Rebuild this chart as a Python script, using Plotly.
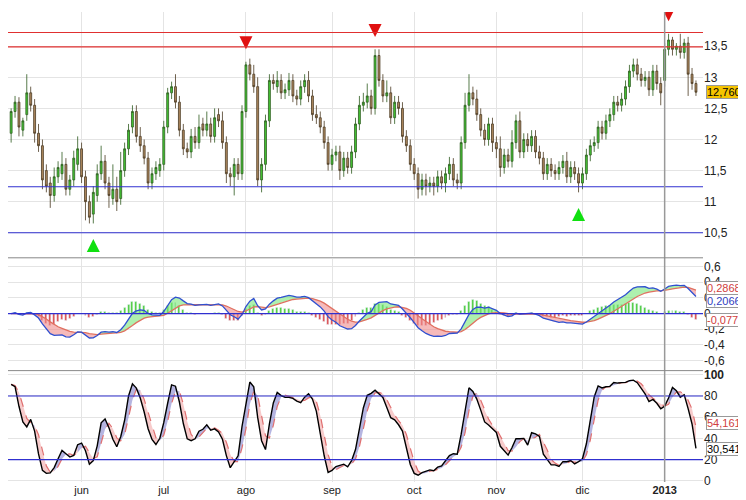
import numpy as np
import pandas as pd
import plotly.graph_objects as go

# daily candles (index = trading day)
opens = [12.10,12.45,12.60,12.15,12.40,12.75,12.55,12.10,11.90,11.50,
         11.30,11.10,11.40,11.45,11.60,11.20,11.35,11.60,11.85,11.40,
         11.00,10.80,11.10,11.45,11.65,11.30,11.05,11.20,11.05,11.50,
         11.85,12.20,12.45,12.05,11.90,11.70,11.30,11.45,11.50,11.60,
         12.20,12.75,12.85,12.60,12.15,11.85,11.80,12.05,11.95,12.25,
         12.15,12.25,12.05,12.40,12.30,11.95,11.45,11.40,11.60,11.45,
         12.45,13.20,13.05,12.85,11.35,11.60,12.30,12.95,12.85,12.95,
         12.75,12.80,12.95,12.70,12.65,12.85,12.95,12.70,12.40,12.35,
         12.20,11.95,11.60,11.75,11.80,11.50,11.70,11.55,11.80,12.25,
         12.55,12.60,12.70,12.50,13.35,12.95,12.70,12.75,12.35,12.60,
         12.50,12.05,11.90,11.60,11.45,11.20,11.35,11.25,11.30,11.25,
         11.40,11.30,11.45,11.60,11.35,11.30,11.95,12.55,12.75,12.65,
         12.40,12.15,12.00,12.25,11.95,11.85,11.55,11.75,11.65,11.95,
         12.30,11.80,12.00,11.90,12.05,11.80,11.70,11.45,11.60,11.50,
         11.45,11.55,11.65,11.40,11.55,11.45,11.30,11.45,11.75,11.90,
         11.95,12.20,12.10,12.30,12.40,12.60,12.55,12.65,12.85,13.10,
         13.20,13.05,12.95,13.00,12.80,13.10,12.90,12.95,13.45,13.60,
         13.45,13.50,13.40,13.55,13.05,12.90]
closes = [12.45,12.60,12.20,12.30,12.75,12.55,12.10,11.90,11.35,11.25,
          11.10,11.40,11.55,11.60,11.20,11.35,11.70,11.85,11.40,11.00,
          10.75,11.15,11.45,11.65,11.30,11.10,11.20,11.00,11.50,11.85,
          12.15,12.45,12.05,11.90,11.70,11.30,11.45,11.55,11.60,12.20,
          12.75,12.85,12.60,12.15,11.85,11.80,12.05,11.95,12.20,12.15,
          12.25,12.05,12.35,12.30,11.95,11.45,11.40,11.60,11.45,12.45,
          13.20,13.05,12.85,11.35,11.60,12.30,12.95,12.90,12.95,12.75,
          12.80,12.95,12.70,12.65,12.85,12.95,12.70,12.40,12.35,12.20,
          11.95,11.60,11.75,11.80,11.50,11.70,11.55,11.80,12.25,12.55,
          12.60,12.70,12.50,13.35,12.95,12.70,12.75,12.35,12.60,12.50,
          12.05,11.90,11.60,11.45,11.20,11.35,11.25,11.30,11.25,11.40,
          11.30,11.45,11.60,11.35,11.30,11.95,12.55,12.75,12.65,12.40,
          12.15,12.00,12.25,11.95,11.85,11.55,11.75,11.65,11.95,12.30,
          11.80,12.00,11.90,12.05,11.80,11.70,11.45,11.60,11.50,11.45,
          11.55,11.65,11.40,11.55,11.45,11.30,11.45,11.75,11.90,11.95,
          12.20,12.10,12.30,12.40,12.60,12.55,12.65,12.85,13.10,13.20,
          13.05,12.95,13.00,12.80,13.10,12.90,12.75,13.45,13.60,13.45,
          13.50,13.40,13.55,13.05,12.90,12.76]
upper_wick = [.05,.1,.08,.05,.3,.1,.1,.15,.1,.1,
              .1,.15,.1,.2,.1,.08,.12,.2,.1,.1,
              .1,.1,.15,.25,.1,.1,.4,.2,.3,.1,
              .1,.1,.1,.15,.1,.1,.1,.1,.1,.1,
              .08,.08,.2,.1,.1,.1,.12,.15,.2,.1,
              .2,.1,.15,.1,.15,.1,.1,.1,.1,.1,
              .05,.1,.15,.15,.1,.1,.1,.1,.15,.1,
              .1,.12,.1,.1,.1,.1,.15,.1,.15,.1,
              .1,.1,.1,.1,.1,.1,.1,.1,.1,.15,
              .15,.2,.1,.1,.1,.1,.2,.1,.1,.1,
              .1,.1,.1,.1,.1,.1,.1,.1,.1,.1,
              .1,.1,.12,.1,.1,.1,.2,.3,.1,.15,
              .1,.1,.1,.1,.1,.2,.1,.1,.2,.1,
              .15,.1,.1,.1,.1,.1,.1,.1,.1,.1,
              .1,.1,.15,.1,.1,.1,.1,.1,.1,.1,
              .1,.1,.1,.1,.1,.1,.1,.1,.1,.1,
              .1,.1,.1,.1,.1,.1,.1,.1,.1,.05,
              .05,.2,.07,.1,.1,.05]
lower_wick = [.15,.1,.15,.1,.1,.1,.15,.1,.15,.1,
              .2,.1,.1,.1,.1,.1,.1,.1,.1,.3,
              .1,.15,.1,.1,.1,.2,.1,.15,.1,.1,
              .1,.1,.1,.1,.1,.1,.1,.1,.1,.1,
              .1,.1,.1,.1,.1,.1,.1,.1,.1,.1,
              .1,.1,.1,.1,.1,.15,.15,.3,.1,.1,
              .1,.1,.1,.1,.2,.1,.1,.1,.1,.1,
              .1,.1,.1,.1,.1,.1,.1,.1,.1,.1,
              .1,.1,.1,.1,.15,.1,.1,.1,.1,.1,
              .1,.1,.1,.1,.1,.1,.1,.1,.1,.1,
              .1,.1,.1,.1,.15,.1,.15,.1,.15,.1,
              .1,.15,.1,.1,.1,.1,.1,.1,.1,.1,
              .1,.1,.1,.15,.15,.15,.1,.1,.1,.1,
              .1,.1,.1,.1,.1,.1,.1,.1,.1,.1,
              .1,.1,.1,.1,.1,.15,.1,.1,.1,.1,
              .1,.1,.1,.1,.1,.1,.1,.1,.1,.1,
              .1,.1,.1,.1,.1,.1,.2,.1,.1,.1,
              .1,.1,.1,.35,.1,.06]

tick_idx = [18, 39, 60, 82, 103, 124, 146, 167]
tick_txt = ["jun", "jul", "ago", "sep", "oct", "nov", "dic", "<b>2013</b>"]

resist = [13.72, 13.49]
support = [11.24, 10.5]
sell_idx = [60, 93, 168]
buy_idx = [21, 145]

o = np.array(opens); c = np.array(closes)
hi = np.maximum(o, c) + np.array(upper_wick)
lo = np.minimum(o, c) - np.array(lower_wick)
x = np.arange(len(c))
s = pd.Series(c)

# MACD 12/26/9
macd = s.ewm(span=12, adjust=False).mean() - s.ewm(span=26, adjust=False).mean()
sig = macd.ewm(span=9, adjust=False).mean()
hist = macd - sig
# stochastic 14/3/3
ll = pd.Series(lo).rolling(14, min_periods=1).min()
hh = pd.Series(hi).rolling(14, min_periods=1).max()
k = (100 * (s - ll) / (hh - ll)).rolling(3, min_periods=1).mean()
d = k.rolling(3, min_periods=1).mean()

fig = go.Figure()

def fill_between(a, b, up_col, dn_col, yax):
    diff = (a - b).values
    i = 0
    n = len(diff)
    while i < n - 1:
        j = i
        pos = diff[i] >= 0
        while j < n - 1 and (diff[j + 1] >= 0) == pos:
            j += 1
        e = min(j + 1, n - 1)
        xs = list(x[i:e + 1]) + list(x[i:e + 1][::-1])
        ys = list(a.values[i:e + 1]) + list(b.values[i:e + 1][::-1])
        fig.add_trace(go.Scatter(x=xs, y=ys, fill="toself", mode="none",
                                 fillcolor=up_col if pos else dn_col,
                                 yaxis=yax, hoverinfo="skip", showlegend=False))
        i = j + 1

fig.add_trace(go.Candlestick(x=x, open=o, high=hi, low=lo, close=c,
                             increasing=dict(line=dict(color="#2d5a1e", width=0.8), fillcolor="#44c834"),
                             decreasing=dict(line=dict(color="#4a3a22", width=0.8), fillcolor="#b08a60"),
                             whiskerwidth=0, showlegend=False))
fig.add_trace(go.Scatter(x=sell_idx, y=[hi[i] + 0.2 for i in sell_idx], mode="markers",
                         marker=dict(symbol="arrow-down", size=13, color="#e01010"), showlegend=False))
fig.add_trace(go.Scatter(x=buy_idx, y=[lo[i] - 0.25 for i in buy_idx], mode="markers",
                         marker=dict(symbol="arrow-up", size=13, color="#10e010"), showlegend=False))

# MACD panel
fig.add_trace(go.Bar(x=x, y=hist, yaxis="y2", width=0.5,
                     marker_color=np.where(hist >= 0, "#44cc33", "#dd4444"), showlegend=False))
fill_between(macd, sig, "rgba(120,230,120,0.6)", "rgba(240,140,140,0.6)", "y2")
fig.add_trace(go.Scatter(x=x, y=sig, yaxis="y2", mode="lines", line=dict(color="#e07060", width=1.3), showlegend=False))
fig.add_trace(go.Scatter(x=x, y=macd, yaxis="y2", mode="lines", line=dict(color="#3050d0", width=1.3), showlegend=False))

# stochastic panel
fill_between(k, d, "rgba(120,120,200,0.55)", "rgba(240,160,160,0.55)", "y3")
fig.add_trace(go.Scatter(x=x, y=d, yaxis="y3", mode="lines", line=dict(color="#e07070", width=1.2, dash="dash"), showlegend=False))
fig.add_trace(go.Scatter(x=x, y=k, yaxis="y3", mode="lines", line=dict(color="black", width=1.4), showlegend=False))

for v in resist:
    fig.add_hline(y=v, line=dict(color="#e03030", width=1.2), yref="y")
for v in support:
    fig.add_hline(y=v, line=dict(color="#3030d0", width=1.2), yref="y")
fig.add_hline(y=0, line=dict(color="#3030d0", width=1.2), yref="y2")
for v in [20, 80]:
    fig.add_hline(y=v, line=dict(color="#3030d0", width=1.2), yref="y3")
fig.add_shape(type="line", x0=tick_idx[-1], x1=tick_idx[-1], y0=0, y1=1, xref="x", yref="paper",
              line=dict(color="#999999", width=1.5))
# panel separators
for yy in [0.477, 0.237]:
    fig.add_shape(type="line", x0=0, x1=1, y0=yy, y1=yy, xref="paper", yref="paper",
                  line=dict(color="#888888", width=1))

def comma(vals, fmt):
    return [fmt.format(v).replace(".", ",") for v in vals]

pv = [10.5, 11, 11.5, 12, 12.5, 13, 13.5]
mv = [-0.6, -0.4, -0.2, 0, 0.2, 0.4, 0.6]
sv = [0, 20, 40, 60, 80, 100]
grid = "#e4e4e4"
axcommon = dict(side="right", showgrid=True, gridcolor=grid, zeroline=False, showline=False,
                ticks="", tickfont=dict(family="Arial", size=12, color="#222"), anchor="x")
fig.update_layout(
    width=746, height=500, margin=dict(l=0, r=51, t=0, b=26),
    plot_bgcolor="white", paper_bgcolor="white", bargap=0,
    xaxis=dict(range=[-0.8, len(c) + 0.8], tickvals=tick_idx, ticktext=tick_txt, showgrid=True,
               gridcolor=grid, rangeslider=dict(visible=False), ticks="", zeroline=False,
               anchor="y3", tickfont=dict(family="Arial", size=11, color="#222")),
    yaxis=dict(domain=[0.48, 1], range=[10.12, 14.05], tickvals=pv,
               ticktext=comma(pv, "{:g}"), **axcommon),
    yaxis2=dict(domain=[0.24, 0.475], range=[-0.71, 0.7], tickvals=mv,
                ticktext=comma(mv, "{:g}"), **axcommon),
    yaxis3=dict(domain=[0, 0.235], range=[-1, 103], tickvals=sv,
                ticktext=[str(v) if v != 100 else "<b>100</b>" for v in sv], **axcommon),
)

labels = [("y", c[-1], "12,760", "black", "#f5c400", 0),
          ("y2", 0.2868, "0,2868", "#d04040", "white", 3),
          ("y2", 0.2066, "0,2066", "#3040c0", "white", -4),
          ("y2", -0.077, "-0,077", "#d04040", "white", 0),
          ("y3", 54.161, "54,161", "#d04040", "white", 0),
          ("y3", 30.541, "30,541", "black", "white", 0)]
for yr, yv, txt, col, bg, ys in labels:
    fig.add_annotation(x=1, xref="paper", xanchor="left", xshift=3, y=yv, yref=yr, yshift=ys,
                       text=txt, showarrow=False, font=dict(family="Arial", size=11, color=col),
                       bgcolor=bg, bordercolor="#999", borderwidth=1, borderpad=0)

fig.write_html("out.html")
